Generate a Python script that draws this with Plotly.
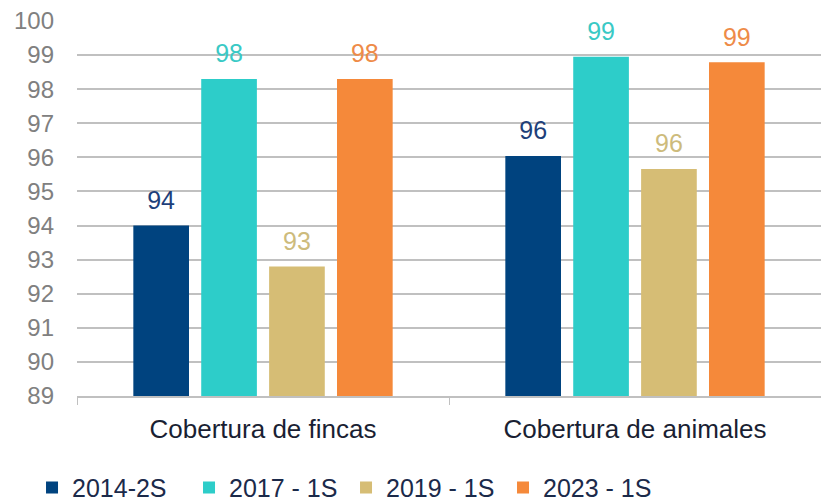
import plotly.graph_objects as go

categories = ["Cobertura de fincas", "Cobertura de animales"]
series_names = ["2014-2S", "2017 - 1S", "2019 - 1S", "2023 - 1S"]
v_2014 = [94.0, 96.04]
v_2017 = [98.3, 98.95]
v_2019 = [92.8, 95.66]
v_2023 = [98.3, 98.79]
series_values = [v_2014, v_2017, v_2019, v_2023]
bar_colors = ["#00437F", "#2DCDC9", "#D6BD75", "#F5893A"]
label_colors = ["#1E3F7A", "#3AC9C5", "#CDBB7C", "#EE8B48"]
y_ticks = list(range(89, 101))

FONT = "Liberation Sans, Arial, sans-serif"

fig = go.Figure()
for name, vals, bc, lc in zip(series_names, series_values, bar_colors, label_colors):
    fig.add_trace(go.Bar(
        name=name, x=categories, y=vals,
        marker=dict(color=bc, line=dict(width=0)),
        texttemplate="<span style='font-size:25px'>%{y:.0f}</span><br> ",
        textposition="outside",
        textfont=dict(color=lc, size=9, family=FONT),
        cliponaxis=False,
    ))

fig.update_layout(
    width=821, height=504,
    margin=dict(l=77, r=0, t=21, b=108, autoexpand=False),
    paper_bgcolor="white", plot_bgcolor="white",
    barmode="group", bargap=0.27, bargroupgap=0.18,
    font=dict(family=FONT),
    showlegend=True,
    legend=dict(
        orientation="h", xref="container", yref="paper",
        x=0.039, y=-0.306, xanchor="left", yanchor="bottom",
        font=dict(size=25, color="#1B2A4A", family=FONT),
        entrywidth=112, entrywidthmode="pixels",
        itemsizing="constant", traceorder="normal",
    ),
    uniformtext=dict(mode=False),
)
fig.update_yaxes(
    range=[89, 100], tickvals=y_ticks, ticktext=[str(t) for t in y_ticks],
    showgrid=True, gridcolor="#C0C0C0", gridwidth=1.5,
    zeroline=False, showline=False,
    tickfont=dict(size=24, color="#808080", family=FONT),
    ticks="", ticklabelstandoff=22,
)
fig.update_xaxes(
    showline=True, linecolor="#C0C0C0", linewidth=1.5,
    ticks="outside", tickson="boundaries", ticklen=7, tickcolor="#C0C0C0",
    tickfont=dict(size=26, color="#1A1F33", family=FONT),
    ticklabelstandoff=9,
)

fig.write_html("out.html", config={"displayModeBar": False},
               post_script="document.body.style.margin='0';")
